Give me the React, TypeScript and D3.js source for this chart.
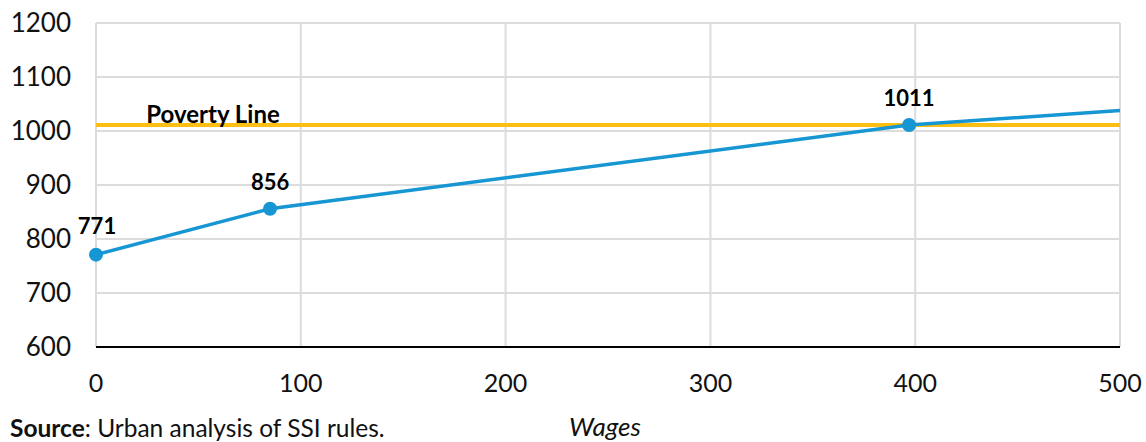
import React from "react";
import * as d3 from "d3";

// Benefit-plus-earnings schedule by monthly wages
const wages = [0, 85, 397, 500];
const income = [771, 856, 1011, 1038];
const labelled = [true, true, true, false];
const povertyLine = 1011;
const xTicks = [0, 100, 200, 300, 400, 500];
const yTicks = [600, 700, 800, 900, 1000, 1100, 1200];

const W = 1146;
const H = 442;
const FONT = "Lato, 'Open Sans', sans-serif";
const BLUE = "#1696d2";
const GOLD = "#fdbf11";
const GRID = "#dcdcdc";

export default function App() {
  const x = d3.scaleLinear().domain([0, 500]).range([96, 1120]);
  const y = d3.scaleLinear().domain([600, 1200]).range([347, 23]);
  const pts = wages.map((w, i) => ({ w, v: income[i], lab: labelled[i] }));
  const line = d3
    .line<{ w: number; v: number }>()
    .x((d) => x(d.w))
    .y((d) => y(d.v));

  return (
    <svg
      width={W}
      height={H}
      style={{ position: "absolute", left: 0, top: 0, background: "#fff" }}
      fontFamily={FONT}
    >
      {/* grid */}
      {yTicks.map((t) => (
        <line key={"gy" + t} x1={x(0)} x2={x(500)} y1={y(t)} y2={y(t)} stroke={GRID} strokeWidth={2} />
      ))}
      {xTicks.map((t) => (
        <line key={"gx" + t} x1={x(t)} x2={x(t)} y1={y(1200)} y2={y(600)} stroke={GRID} strokeWidth={2} />
      ))}
      {/* bottom axis */}
      <line x1={x(0)} x2={x(500)} y1={y(600)} y2={y(600)} stroke="#000" strokeWidth={2} />

      {/* tick labels */}
      {yTicks.map((t) => (
        <text key={"ly" + t} x={71} y={y(t)} dy="0.35em" textAnchor="end" fontSize={26} fill="#111">
          {t}
        </text>
      ))}
      {xTicks.map((t) => (
        <text key={"lx" + t} x={x(t)} y={392} textAnchor="middle" fontSize={25} fill="#111">
          {t}
        </text>
      ))}

      {/* poverty line */}
      <line x1={x(0)} x2={x(500)} y1={y(povertyLine)} y2={y(povertyLine)} stroke={GOLD} strokeWidth={4} />
      <text x={213} y={y(povertyLine) - 2} textAnchor="middle" fontSize={24} fontWeight={700} fill="#000">
        Poverty Line
      </text>

      {/* income series */}
      <path d={line(pts) || ""} fill="none" stroke={BLUE} strokeWidth={3.5} />
      {pts
        .filter((p) => p.lab)
        .map((p) => (
          <g key={"p" + p.w}>
            <circle cx={x(p.w)} cy={y(p.v)} r={7} fill={BLUE} />
            <text
              x={x(p.w) + (p.w === 0 ? 1 : 0)}
              y={y(p.v) - (p.w === 0 ? 21 : 19)}
              textAnchor="middle"
              fontSize={22}
              fontWeight={700}
              fill="#000"
            >
              {p.v}
            </text>
          </g>
        ))}

      {/* axis title and source */}
      <text x={605} y={436} textAnchor="middle" fontSize={26} fontStyle="italic" fill="#111">
        Wages
      </text>
      <text x={10} y={437} fontSize={24.5} fill="#111">
        <tspan fontWeight={700}>Source</tspan>: Urban analysis of SSI rules.
      </text>
    </svg>
  );
}
